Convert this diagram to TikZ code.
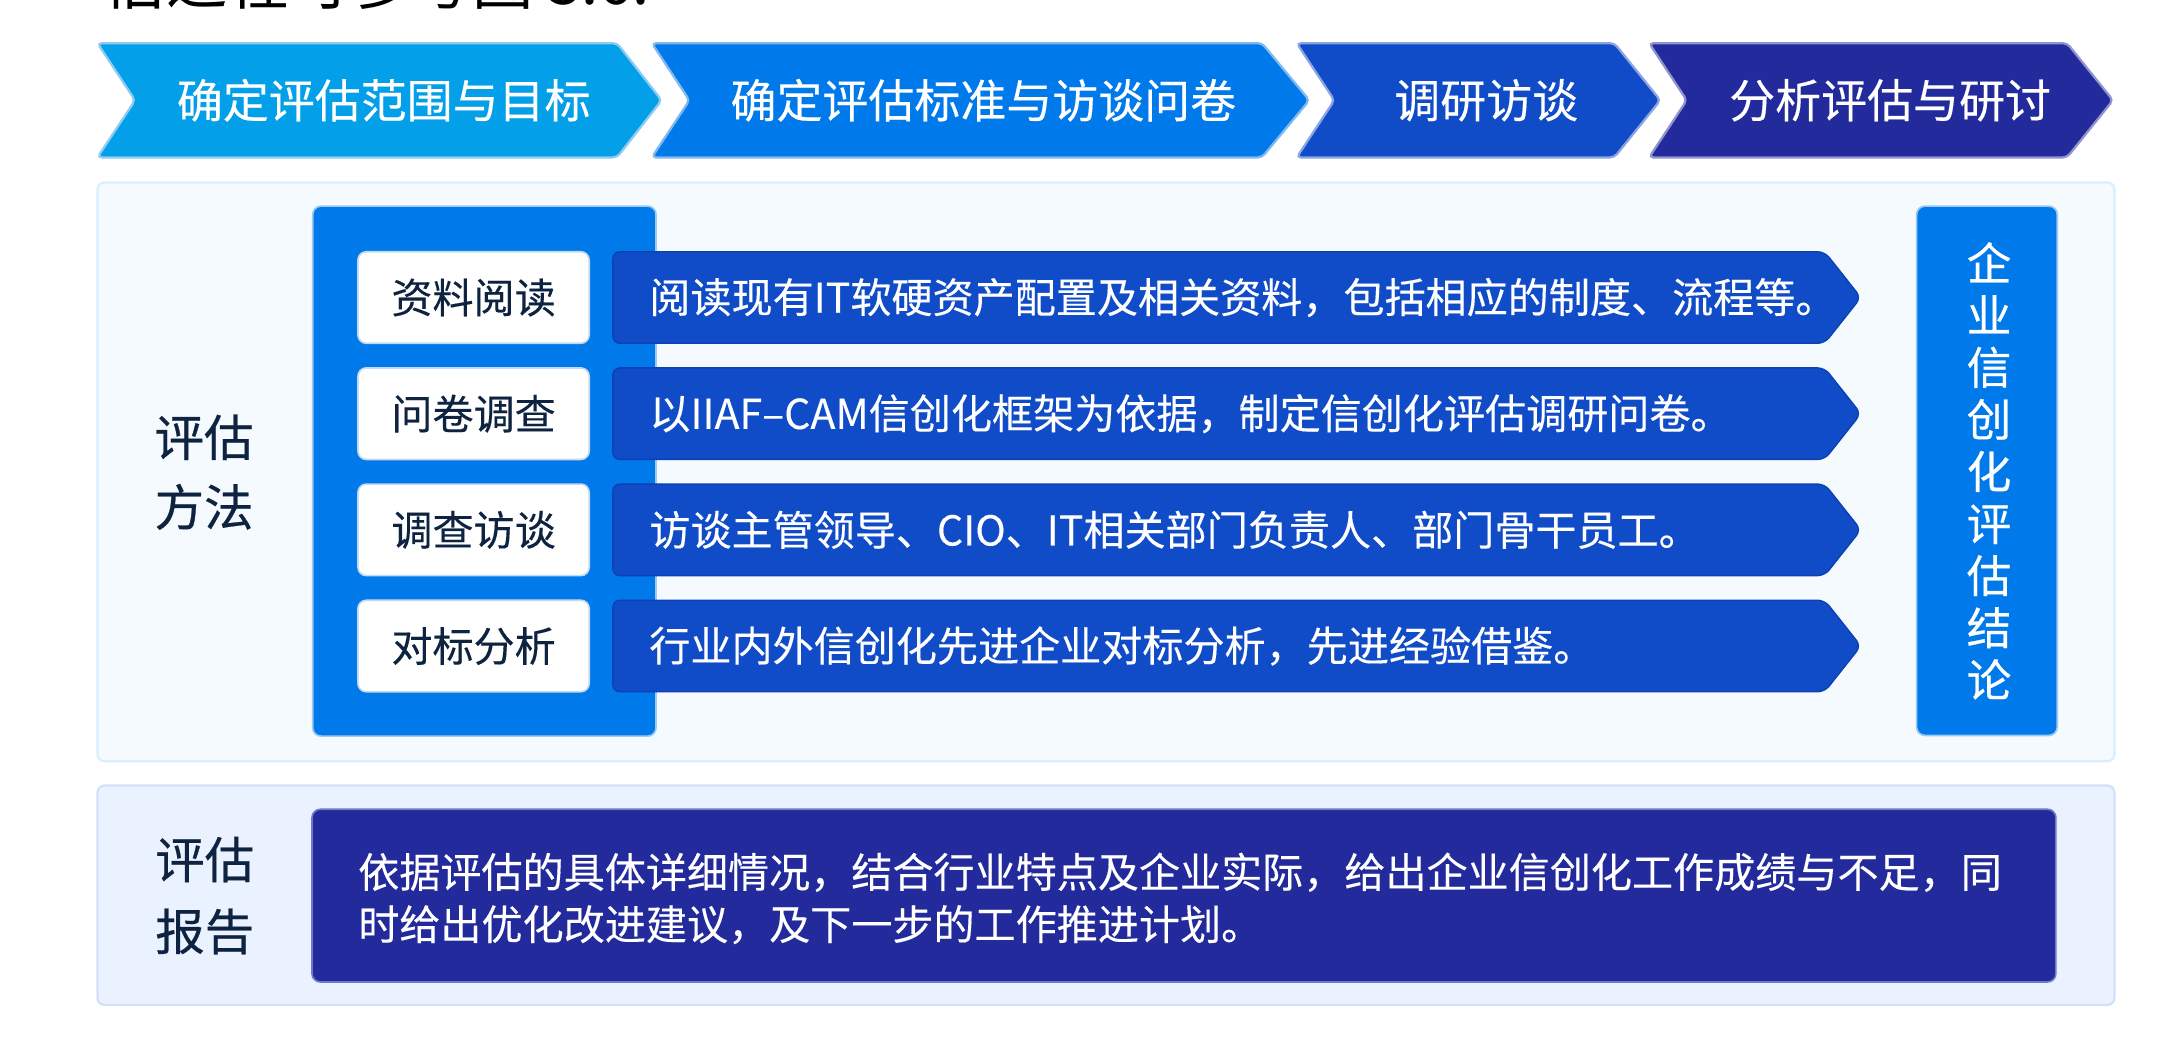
\documentclass[tikz,border=0pt]{standalone}
\usepackage{fontspec}
\setmainfont{Noto Sans CJK SC}
\newfontfamily\mfont{Noto Sans CJK SC}[FakeBold=0.5]
\newfontfamily\lfont{Noto Sans CJK SC}[FakeBold=0.25]
\definecolor{cA}{HTML}{03A0E9}
\definecolor{cAb}{HTML}{8CCBF2}
\definecolor{cB}{HTML}{0079EA}
\definecolor{cBb}{HTML}{7FB9F0}
\definecolor{cC}{HTML}{114CC8}
\definecolor{cCb}{HTML}{8AA5E2}
\definecolor{cD}{HTML}{232A9B}
\definecolor{cDb}{HTML}{8F93CF}
\definecolor{panelA}{HTML}{F5FAFF}
\definecolor{panelAb}{HTML}{D8EFFD}
\definecolor{panelB}{HTML}{EBF2FF}
\definecolor{panelBb}{HTML}{D2E1FA}
\definecolor{colb}{HTML}{9CC8F3}
\definecolor{rowb}{HTML}{0D40B0}
\definecolor{boxb}{HTML}{C5D9F0}
\definecolor{darktxt}{HTML}{0E2340}
\definecolor{repb}{HTML}{6E7ACB}
\begin{document}
\begin{tikzpicture}[x=1pt,y=-1pt,
  chev/.style={rounded corners=3pt,line width=1.6pt},
  chevtxt/.style={text=white,inner sep=0pt,font=\lfont\fontsize{33}{33}\selectfont},
  panel/.style={rounded corners=5pt,line width=1.6pt,inner sep=0pt},
  col/.style={rounded corners=6pt,fill=cB,draw=colb,line width=1.2pt,inner sep=0pt},
  wbox/.style={rounded corners=6pt,fill=white,draw=boxb,line width=1.2pt,inner sep=0pt,
    minimum width=166pt,minimum height=65.7pt,text=darktxt,font=\lfont\fontsize{29.5}{29.5}\selectfont},
  rowbar/.style={rounded corners=5pt,fill=cC,draw=rowb,line width=1pt},
  rowtxt/.style={text=white,inner sep=0pt,anchor=west,font=\lfont\fontsize{29.5}{29.5}\selectfont},
  lbl/.style={text=darktxt,inner sep=0pt,align=center,font=\mfont\fontsize{35.5}{50}\selectfont}]
\useasboundingbox (0,0) rectangle (1568,744);
\fill[white] (0,0) rectangle (1568,744);
% cut-off line at top
\begin{scope}
\clip (0,0) rectangle (1568,744);
\node[anchor=base west,inner sep=0pt,text=black,font=\fontsize{44}{44}\selectfont] (toptxt) at (75,3) {估过程可参考图 3.6.};
\end{scope}
% chevrons
\draw[chev,fill=cA,draw=cAb] (70,31) -- (443,31) -- (475,72) -- (443,113) -- (70,113) -- (97,72) -- cycle;
\draw[chev,fill=cB,draw=cBb] (468,31) -- (906,31) -- (940,72) -- (906,113) -- (468,113) -- (495,72) -- cycle;
\draw[chev,fill=cC,draw=cCb] (931,31) -- (1159,31) -- (1192,72) -- (1159,113) -- (931,113) -- (958,72) -- cycle;
\draw[chev,fill=cD,draw=cDb] (1184,31) -- (1484,31) -- (1517,72) -- (1484,113) -- (1184,113) -- (1211,72) -- cycle;
\node[chevtxt] (s1) at (275.5,72) {确定评估范围与目标};
\node[chevtxt] (s2) at (706,72) {确定评估标准与访谈问卷};
\node[chevtxt] (s3) at (1067,72) {调研访谈};
\node[chevtxt] (s4) at (1357,72) {分析评估与研讨};
% upper panel
\node[panel,fill=panelA,draw=panelAb,minimum width=1448pt,minimum height=415.5pt] (upper) at (794,338.75) {};
\node[col,minimum width=246.5pt,minimum height=380.5pt] (leftcol) at (347.75,338.25) {};
\node[col,minimum width=101pt,minimum height=380pt] (rightcol) at (1426.5,338) {};
\node[text=white,inner sep=0pt,align=center,font=\mfont\fontsize{32}{37.4}\selectfont] (concl) at (1428,338)
  {企\\业\\信\\创\\化\\评\\估\\结\\论};
\node[lbl] (method) at (146.5,339) {评估\\方法};
% rows
\foreach \i/\a/\b in {0/资料阅读/阅读现有IT软硬资产配置及相关资料，包括相应的制度、流程等。,
                      1/问卷调查/以IIAF–CAM信创化框架为依据，制定信创化评估调研问卷。,
                      2/调查访谈/访谈主管领导、CIO、IT相关部门负责人、部门骨干员工。,
                      3/对标分析/行业内外信创化先进企业对标分析，先进经验借鉴。}{
  \pgfmathsetmacro{\cy}{213.6+83.4*\i}
  \pgfmathsetmacro{\ct}{\cy-32.85}
  \pgfmathsetmacro{\cb}{\cy+32.85}
  \draw[rowbar] (440,\ct) -- (1310,\ct) -- (1336,\cy) -- (1310,\cb) -- (440,\cb) -- cycle;
  \node[wbox] (m\i) at (340,\cy) {\a};
  \node[rowtxt] (d\i) at (466,\cy) {\b};
}
% lower panel
\node[panel,fill=panelB,draw=panelBb,minimum width=1448pt,minimum height=157.5pt] (lower) at (794,642.75) {};
\node[rounded corners=6pt,fill=cD,draw=repb,line width=1.2pt,inner sep=0pt,minimum width=1252pt,minimum height=124pt] (report) at (850,643) {};
\node[lbl,font=\mfont\fontsize{35.5}{51.5}\selectfont] (replbl) at (147,643) {评估\\报告};
\node[anchor=base west,inner sep=0pt,text=white,align=left,font=\lfont\fontsize{29.5}{37.5}\selectfont] (reptxt) at (257,674.7)
  {依据评估的具体详细情况，结合行业特点及企业实际，给出企业信创化工作成绩与不足，同\\时给出优化改进建议，及下一步的工作推进计划。};
\end{tikzpicture}
\end{document}
